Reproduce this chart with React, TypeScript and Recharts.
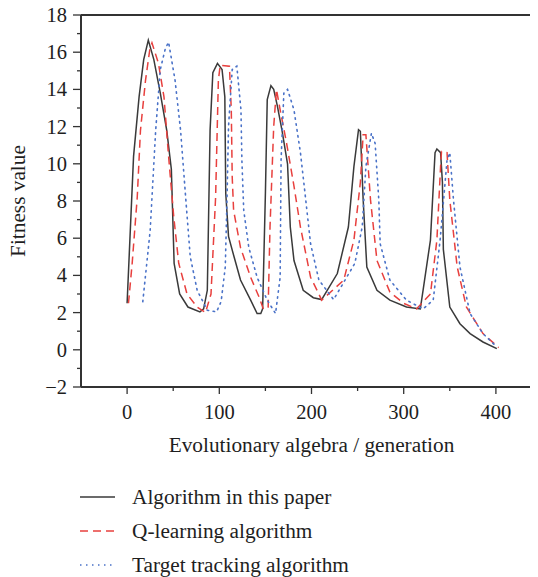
import React from 'react';
import { LineChart, Line, XAxis, YAxis, Legend, ReferenceLine, Label } from 'recharts';

// ---- data ----
const proposedX = [0, 7, 13, 18, 23, 29, 36, 43, 48, 51, 57, 66, 79, 83, 87, 90, 93, 98, 103, 106, 107, 110, 116, 123, 134, 141, 145, 147, 150, 152, 156, 159, 163, 168, 174, 177, 181, 191, 202, 211, 228, 240, 246, 251, 253, 256, 260, 271, 285, 303, 318, 321, 329, 334, 336, 340, 342, 343, 350, 361, 372, 386, 401];
const proposedY = [2.5, 10.4, 13.6, 15.6, 16.65, 15.6, 13.8, 11.8, 9.7, 4.65, 3.0, 2.3, 2.04, 2.2, 3.2, 11.8, 14.9, 15.4, 15.07, 13.6, 8.4, 6.1, 5.0, 3.75, 2.67, 1.95, 1.95, 2.2, 8.4, 13.45, 14.2, 14.0, 13.1, 11.8, 10.0, 6.6, 4.8, 3.2, 2.8, 2.7, 4.1, 6.6, 9.85, 11.83, 11.75, 8.1, 4.45, 3.2, 2.67, 2.3, 2.2, 3.2, 5.9, 10.6, 10.8, 10.6, 9.0, 5.4, 2.3, 1.4, 0.87, 0.42, 0.06];

const qLearningX = [1.5, 5.5, 11, 14.5, 20, 24.5, 27, 34, 40, 45, 50.5, 56, 65, 76, 85, 91, 96, 99, 101, 111, 113, 114, 115.5, 123, 134, 143, 148, 153, 155, 159, 162, 166, 173, 181, 188, 199, 208, 211, 235, 246, 253, 256, 259, 264, 271, 285, 300, 314, 329, 336, 340, 341, 347, 350, 358, 368, 386, 403];
const qLearningY = [2.5, 4.65, 8.2, 11.8, 14.5, 16.1, 16.5, 15.4, 13.6, 10.4, 7.2, 4.65, 3.0, 2.3, 2.0, 3.0, 8.2, 14.5, 15.3, 15.25, 12.9, 9.3, 7.5, 5.5, 3.9, 2.85, 2.17, 2.3, 6.6, 12.0, 14.0, 12.9, 11.1, 8.8, 6.6, 3.9, 3.0, 2.67, 3.75, 5.9, 9.0, 11.56, 11.56, 8.06, 4.8, 3.1, 2.5, 2.2, 3.0, 5.9, 9.85, 10.66, 10.6, 8.06, 4.46, 2.3, 0.87, 0.12];

const trackingX = [17, 25, 31, 36, 41.5, 45, 52, 58, 63.5, 68.5, 76, 87, 97, 102, 106.5, 108.5, 110, 114, 119, 123.5, 124.5, 126.5, 132, 141, 152, 161, 166, 167, 170, 174, 181, 188, 193, 199, 208, 224, 247, 255, 259, 265, 269, 273, 274.5, 285, 303, 321, 332, 339.5, 347, 350, 354, 361, 372, 386, 401];
const trackingY = [2.58, 6.4, 11.8, 15.07, 16.2, 16.54, 14.5, 11.8, 8.2, 5.0, 3.2, 2.13, 2.04, 2.6, 4.46, 8.4, 12.0, 15.07, 15.25, 12.9, 10.2, 7.5, 5.5, 3.9, 2.67, 1.95, 3.9, 10.2, 13.8, 14.0, 12.9, 10.6, 8.4, 5.7, 3.75, 2.7, 4.65, 6.6, 9.85, 11.65, 11.1, 8.06, 5.7, 3.75, 2.67, 2.2, 2.67, 5.9, 10.2, 10.6, 8.06, 4.46, 1.95, 0.87, 0.15];

const seriesNames = ['Algorithm in this paper', 'Q-learning algorithm', 'Target tracking algorithm'];
const xTicks = [0, 50, 100, 150, 200, 250, 300, 350, 400];
const xMajor = [0, 100, 200, 300, 400];
const yTicks = [-2, -1, 0, 1, 2, 3, 4, 5, 6, 7, 8, 9, 10, 11, 12, 13, 14, 15, 16, 17, 18];
const yMajor = [-2, 0, 2, 4, 6, 8, 10, 12, 14, 16, 18];

const toPoints = (xs: number[], ys: number[]) => xs.map((x, i) => ({ x, y: ys[i] }));
const proposedData = toPoints(proposedX, proposedY);
const qLearningData = toPoints(qLearningX, qLearningY);
const trackingData = toPoints(trackingX, trackingY);

// ---- styles ----
const FONT = '"Liberation Serif", "Times New Roman", serif';
const AXIS = '#333333';
const TEXT = '#1e1e1e';
const STYLES = [
  { stroke: '#3a3a3a', dash: undefined as string | undefined, width: 1.5 },
  { stroke: '#e8403e', dash: '8 5', width: 1.5 },
  { stroke: '#4a72c8', dash: '1.5 4.5', width: 1.6 },
];

const fmt = (v: number) => (v < 0 ? '\u2212' + Math.abs(v) : String(v));

const YTick = (props: any) => {
  const { x, y, payload } = props;
  const v = payload.value;
  const major = yMajor.includes(v);
  return (
    <g>
      <line x1={x} x2={x - (major ? 8 : 4)} y1={y} y2={y} stroke={AXIS} strokeWidth={1.3} />
      {major && (
        <text x={x - 14} y={y + 7} textAnchor="end" fontFamily={FONT} fontSize={20.5} fill={TEXT}>
          {fmt(v)}
        </text>
      )}
    </g>
  );
};

const XTick = (props: any) => {
  const { x, y, payload } = props;
  const v = payload.value;
  const major = xMajor.includes(v);
  return (
    <g>
      <line x1={x} x2={x} y1={y} y2={y + (major ? 7 : 4)} stroke={AXIS} strokeWidth={1.3} />
      {major && (
        <text x={x} y={y + 32} textAnchor="middle" fontFamily={FONT} fontSize={20.5} fill={TEXT}>
          {fmt(v)}
        </text>
      )}
    </g>
  );
};

const LegendContent = () => {
  const ROW = 34;
  return (
    <div style={{ position: 'relative', width: 530, height: ROW * 3 - 8, fontFamily: FONT, fontSize: 21.3, color: TEXT }}>
      {seriesNames.map((name, i) => (
        <div key={name} style={{ position: 'absolute', left: 0, top: i * ROW, height: ROW, display: 'flex', alignItems: 'center', whiteSpace: 'nowrap' }}>
          <svg width={110} height={ROW} style={{ display: 'block' }}>
            <line x1={72} x2={107} y1={ROW / 2} y2={ROW / 2} stroke={STYLES[i].stroke} strokeWidth={STYLES[i].width} strokeDasharray={STYLES[i].dash} />
          </svg>
          <span style={{ marginLeft: 14 }}>{name}</span>
        </div>
      ))}
    </div>
  );
};

export default function App() {
  return (
    <div style={{ width: 542, height: 577, margin: '-8px 0 0 -8px' }}>
      <style>{'html { overflow: hidden; }'}</style>
      <LineChart width={542} height={577} margin={{ top: 15, right: 0, bottom: 150, left: 8 }}>
        <XAxis
          dataKey="x"
          type="number"
          domain={[-50, 450]}
          ticks={xTicks}
          interval={0}
          tickSize={0}
          tickMargin={0}
          tickLine={false}
          tick={<XTick />}
          height={40}
          axisLine={{ stroke: AXIS, strokeWidth: 2 }}
          allowDataOverflow
        >
          <Label
            content={(p: any) => {
              const vb = p.viewBox;
              return (
                <text x={vb.x + vb.width / 2} y={vb.y + 64.5} textAnchor="middle" fontFamily={FONT} fontSize={21.3} fill={TEXT}>
                  Evolutionary algebra / generation
                </text>
              );
            }}
          />
        </XAxis>
        <YAxis
          type="number"
          domain={[-2, 18]}
          ticks={yTicks}
          interval={0}
          tickSize={0}
          tickMargin={0}
          tickLine={false}
          tick={<YTick />}
          width={73}
          axisLine={{ stroke: AXIS, strokeWidth: 2 }}
          allowDataOverflow
        >
          <Label
            content={() => (
              <text x={25} y={201} transform="rotate(-90 25 201)" textAnchor="middle" fontFamily={FONT} fontSize={21.3} fill={TEXT}>
                Fitness value
              </text>
            )}
          />
        </YAxis>
        <ReferenceLine y={18} stroke={AXIS} strokeWidth={2} />
        <Line data={proposedData} dataKey="y" name={seriesNames[0]} type="linear" stroke={STYLES[0].stroke} strokeWidth={STYLES[0].width} dot={false} activeDot={false} isAnimationActive={false} />
        <Line data={qLearningData} dataKey="y" name={seriesNames[1]} type="linear" stroke={STYLES[1].stroke} strokeWidth={STYLES[1].width} strokeDasharray={STYLES[1].dash} dot={false} activeDot={false} isAnimationActive={false} />
        <Line data={trackingData} dataKey="y" name={seriesNames[2]} type="linear" stroke={STYLES[2].stroke} strokeWidth={STYLES[2].width} strokeDasharray={STYLES[2].dash} strokeLinecap="round" dot={false} activeDot={false} isAnimationActive={false} />
        <Legend
          layout="vertical"
          align="center"
          verticalAlign="middle"
          content={<LegendContent />}
          wrapperStyle={{ position: 'absolute', left: 8, top: 480, width: 530 }}
        />
      </LineChart>
    </div>
  );
}
